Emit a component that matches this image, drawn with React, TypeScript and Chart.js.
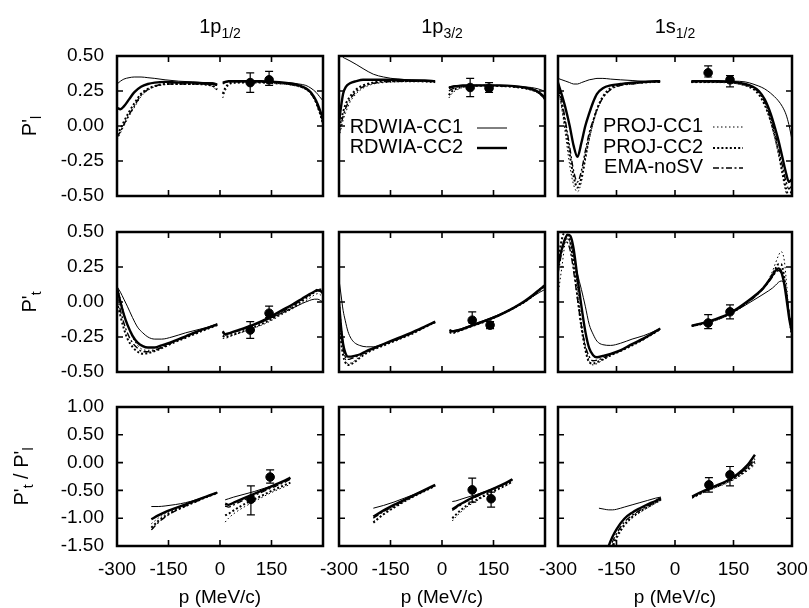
import React, { useEffect, useRef } from 'react';
import { Chart, registerables } from 'chart.js';
Chart.register(...registerables);

const W = 809;
const H = 608;
const FONT = "'Liberation Sans', Arial, Helvetica, sans-serif";

// panel rectangles (pixel layout)
const COLS = [[117, 323], [339, 545], [558, 792]];
const ROWS = [[56, 196], [232, 372], [407, 546]];

// ticks
const X_TICKS = [-300, -150, 0, 150, 300];
const Y_TICKS_P = [-0.5, -0.25, 0, 0.25, 0.5];
const Y_TICKS_R = [-1.5, -1.0, -0.5, 0, 0.5, 1.0];

const COL_TITLES: [string, string][] = [['1p', '1/2'], ['1p', '3/2'], ['1s', '1/2']];
const ROW_TITLES: [string, string][][] = [[["P'", 'l']], [["P'", 't']], [["P'", 't'], [" / P'", 'l']]];
const X_TITLE = 'p (MeV/c)';
const SERIES_LABELS = ['RDWIA-CC1', 'RDWIA-CC2', 'PROJ-CC1', 'PROJ-CC2', 'EMA-noSV'];

// ---------- Panel A: P'l, 1p1/2 ----------
const A_XN = [-300, -290, -280, -265, -250, -230, -210, -190, -160, -120, -80, -40, -20, -8];
const A_CC1_N = [0.30, 0.32, 0.335, 0.345, 0.35, 0.35, 0.345, 0.34, 0.33, 0.32, 0.315, 0.31, 0.31, 0.30];
const A_CC2_N = [0.13, 0.12, 0.14, 0.19, 0.24, 0.28, 0.30, 0.31, 0.315, 0.31, 0.31, 0.305, 0.30, 0.295];
const A_P1_N = [-0.10, -0.05, 0.0, 0.07, 0.13, 0.21, 0.255, 0.28, 0.295, 0.30, 0.30, 0.295, 0.28, 0.25];
const A_P2_N = [-0.06, -0.02, 0.03, 0.10, 0.16, 0.23, 0.265, 0.285, 0.30, 0.30, 0.30, 0.295, 0.285, 0.26];
const A_EMA_N = [-0.08, -0.04, 0.01, 0.08, 0.14, 0.22, 0.26, 0.285, 0.30, 0.30, 0.30, 0.30, 0.295, 0.29];
const A_XP = [8, 15, 25, 40, 80, 120, 160, 200, 230, 250, 265, 280, 290, 300];
const A_CC1_P = [0.31, 0.315, 0.32, 0.32, 0.32, 0.32, 0.315, 0.31, 0.30, 0.29, 0.27, 0.24, 0.21, 0.18];
const A_CC2_P = [0.31, 0.315, 0.32, 0.32, 0.32, 0.32, 0.315, 0.305, 0.29, 0.27, 0.24, 0.18, 0.12, 0.05];
const A_P1_P = [0.20, 0.25, 0.29, 0.305, 0.31, 0.31, 0.305, 0.295, 0.28, 0.26, 0.23, 0.16, 0.09, 0.0];
const A_P2_P = [0.23, 0.27, 0.30, 0.31, 0.31, 0.31, 0.305, 0.30, 0.285, 0.265, 0.235, 0.17, 0.10, 0.02];
const A_EMA_P = [0.30, 0.31, 0.315, 0.315, 0.315, 0.315, 0.31, 0.30, 0.285, 0.265, 0.23, 0.17, 0.10, 0.03];
const A_PX = [88, 143];
const A_PY = [0.31, 0.33];
const A_LO = [0.24, 0.29];
const A_HI = [0.38, 0.39];

// ---------- Panel B: P'l, 1p3/2 ----------
const B_XN = [-300, -295, -288, -280, -268, -250, -230, -200, -170, -130, -90, -50, -20];
const B_CC1_N = [0.53, 0.51, 0.49, 0.48, 0.465, 0.44, 0.41, 0.37, 0.35, 0.335, 0.33, 0.325, 0.32];
const B_CC2_N = [0.02, 0.12, 0.23, 0.28, 0.305, 0.32, 0.33, 0.33, 0.33, 0.33, 0.325, 0.325, 0.32];
const B_P1_N = [-0.08, -0.03, 0.04, 0.10, 0.17, 0.23, 0.27, 0.30, 0.31, 0.315, 0.32, 0.315, 0.31];
const B_P2_N = [-0.04, 0.03, 0.10, 0.16, 0.21, 0.26, 0.29, 0.31, 0.32, 0.32, 0.32, 0.32, 0.315];
const B_EMA_N = [-0.06, 0.0, 0.07, 0.13, 0.19, 0.245, 0.28, 0.305, 0.315, 0.32, 0.32, 0.32, 0.315];
const B_XP = [20, 30, 45, 60, 90, 130, 170, 210, 240, 260, 280, 292, 300];
const B_CC1_P = [0.28, 0.285, 0.29, 0.29, 0.29, 0.29, 0.29, 0.285, 0.28, 0.275, 0.265, 0.255, 0.245];
const B_CC2_P = [0.27, 0.28, 0.285, 0.29, 0.29, 0.29, 0.29, 0.285, 0.275, 0.265, 0.245, 0.22, 0.20];
const B_P1_P = [0.20, 0.235, 0.26, 0.275, 0.285, 0.285, 0.285, 0.28, 0.27, 0.255, 0.235, 0.21, 0.18];
const B_P2_P = [0.22, 0.25, 0.27, 0.28, 0.285, 0.29, 0.285, 0.28, 0.27, 0.26, 0.24, 0.215, 0.19];
const B_EMA_P = [0.25, 0.265, 0.28, 0.285, 0.29, 0.29, 0.285, 0.28, 0.27, 0.26, 0.24, 0.215, 0.19];
const B_PX = [82, 137];
const B_PY = [0.275, 0.27];
const B_LO = [0.21, 0.24];
const B_HI = [0.34, 0.31];

// ---------- Panel C: P'l, 1s1/2 ----------
const C_XN = [-300, -290, -280, -270, -260, -250, -240, -230, -220, -210, -200, -185, -165, -140, -110, -80, -50, -38];
const C_CC1_N = [0.34, 0.33, 0.32, 0.31, 0.30, 0.30, 0.31, 0.32, 0.33, 0.335, 0.34, 0.34, 0.335, 0.33, 0.325, 0.32, 0.32, 0.32];
const C_CC2_N = [0.31, 0.22, 0.12, 0.0, -0.14, -0.22, -0.12, 0.0, 0.09, 0.17, 0.23, 0.27, 0.29, 0.30, 0.31, 0.315, 0.32, 0.32];
const C_P1_N = [0.28, 0.12, -0.08, -0.28, -0.42, -0.47, -0.40, -0.25, -0.10, 0.02, 0.11, 0.20, 0.26, 0.29, 0.30, 0.31, 0.315, 0.315];
const C_P2_N = [0.30, 0.15, -0.02, -0.20, -0.36, -0.44, -0.37, -0.22, -0.08, 0.03, 0.12, 0.21, 0.27, 0.295, 0.305, 0.31, 0.315, 0.315];
const C_EMA_N = [0.30, 0.18, 0.02, -0.15, -0.32, -0.40, -0.32, -0.18, -0.05, 0.04, 0.12, 0.20, 0.26, 0.29, 0.30, 0.31, 0.315, 0.315];
const C_XP = [42, 70, 110, 150, 180, 200, 215, 230, 245, 255, 265, 275, 285, 292, 300];
const C_CC1_P = [0.32, 0.32, 0.32, 0.32, 0.315, 0.30, 0.285, 0.265, 0.235, 0.21, 0.18, 0.14, 0.08, 0.01, -0.10];
const C_CC2_P = [0.32, 0.32, 0.32, 0.315, 0.30, 0.28, 0.25, 0.19, 0.09, 0.0, -0.10, -0.22, -0.34, -0.40, -0.38];
const C_P1_P = [0.31, 0.31, 0.31, 0.305, 0.29, 0.27, 0.23, 0.15, 0.03, -0.08, -0.20, -0.35, -0.48, -0.52, -0.50];
const C_P2_P = [0.315, 0.315, 0.315, 0.31, 0.29, 0.265, 0.225, 0.15, 0.04, -0.06, -0.18, -0.32, -0.45, -0.50, -0.46];
const C_EMA_P = [0.315, 0.315, 0.315, 0.31, 0.295, 0.275, 0.24, 0.17, 0.06, -0.04, -0.15, -0.28, -0.40, -0.45, -0.42];
const C_PX = [85, 141];
const C_PY = [0.38, 0.33];
const C_LO = [0.35, 0.28];
const C_HI = [0.43, 0.36];

// ---------- Panel D: P't, 1p1/2 ----------
const D_XN = [-300, -290, -280, -270, -255, -240, -225, -210, -190, -170, -140, -100, -60, -30, -8];
const D_CC1_N = [0.11, 0.07, 0.02, -0.03, -0.11, -0.18, -0.22, -0.25, -0.265, -0.265, -0.25, -0.22, -0.195, -0.175, -0.155];
const D_CC2_N = [0.10, 0.0, -0.09, -0.16, -0.24, -0.29, -0.315, -0.325, -0.325, -0.31, -0.285, -0.245, -0.205, -0.18, -0.16];
const D_P1_N = [0.12, 0.02, -0.08, -0.16, -0.25, -0.31, -0.34, -0.345, -0.34, -0.32, -0.29, -0.25, -0.21, -0.18, -0.16];
const D_P2_N = [0.0, -0.10, -0.19, -0.26, -0.32, -0.355, -0.37, -0.365, -0.35, -0.33, -0.295, -0.255, -0.215, -0.185, -0.165];
const D_EMA_N = [0.05, -0.06, -0.15, -0.22, -0.29, -0.33, -0.355, -0.355, -0.345, -0.325, -0.29, -0.25, -0.21, -0.18, -0.16];
const D_XP = [8, 15, 30, 60, 100, 140, 180, 210, 240, 260, 275, 285, 293, 300];
const D_CC1_P = [-0.21, -0.225, -0.22, -0.20, -0.165, -0.125, -0.08, -0.045, -0.01, 0.01, 0.02, 0.02, 0.01, 0.0];
const D_CC2_P = [-0.21, -0.23, -0.22, -0.195, -0.16, -0.115, -0.06, -0.02, 0.025, 0.055, 0.075, 0.085, 0.08, 0.06];
const D_P1_P = [-0.26, -0.26, -0.245, -0.22, -0.185, -0.145, -0.09, -0.05, -0.005, 0.025, 0.05, 0.06, 0.05, 0.03];
const D_P2_P = [-0.24, -0.25, -0.24, -0.215, -0.18, -0.135, -0.08, -0.04, 0.01, 0.045, 0.07, 0.09, 0.09, 0.08];
const D_EMA_P = [-0.22, -0.235, -0.225, -0.20, -0.165, -0.12, -0.07, -0.03, 0.02, 0.05, 0.07, 0.08, 0.075, 0.06];
const D_PX = [88, 143];
const D_PY = [-0.20, -0.08];
const D_LO = [-0.26, -0.11];
const D_HI = [-0.14, -0.03];

// ---------- Panel E: P't, 1p3/2 ----------
const E_XN = [-300, -294, -288, -282, -274, -265, -255, -240, -220, -200, -170, -130, -90, -50, -20];
const E_CC1_N = [0.16, 0.05, -0.06, -0.13, -0.21, -0.26, -0.29, -0.31, -0.32, -0.32, -0.30, -0.27, -0.225, -0.175, -0.14];
const E_CC2_N = [0.0, -0.18, -0.30, -0.36, -0.39, -0.39, -0.385, -0.375, -0.35, -0.33, -0.30, -0.26, -0.22, -0.175, -0.14];
const E_P1_N = [0.05, -0.15, -0.30, -0.40, -0.44, -0.435, -0.42, -0.39, -0.36, -0.335, -0.305, -0.265, -0.225, -0.18, -0.145];
const E_P2_N = [-0.10, -0.28, -0.38, -0.43, -0.45, -0.445, -0.43, -0.40, -0.365, -0.34, -0.31, -0.27, -0.23, -0.18, -0.145];
const E_EMA_N = [-0.05, -0.22, -0.33, -0.39, -0.41, -0.405, -0.395, -0.38, -0.355, -0.335, -0.305, -0.265, -0.225, -0.18, -0.145];
const E_XP = [22, 30, 50, 90, 130, 170, 210, 240, 265, 285, 300];
const E_CC1_P = [-0.20, -0.205, -0.195, -0.16, -0.125, -0.085, -0.04, 0.0, 0.04, 0.07, 0.09];
const E_CC2_P = [-0.20, -0.21, -0.20, -0.165, -0.13, -0.09, -0.04, 0.005, 0.05, 0.09, 0.12];
const E_P1_P = [-0.22, -0.225, -0.21, -0.17, -0.135, -0.095, -0.045, -0.005, 0.04, 0.08, 0.11];
const E_P2_P = [-0.215, -0.22, -0.205, -0.17, -0.135, -0.09, -0.04, 0.0, 0.045, 0.09, 0.12];
const E_EMA_P = [-0.205, -0.21, -0.20, -0.165, -0.13, -0.09, -0.04, 0.0, 0.045, 0.085, 0.11];
const E_PX = [88, 140];
const E_PY = [-0.13, -0.165];
const E_LO = [-0.15, -0.19];
const E_HI = [-0.07, -0.14];

// ---------- Panel F: P't, 1s1/2 ----------
const F_XN = [-300, -290, -282, -275, -268, -260, -250, -240, -230, -220, -210, -200, -185, -165, -140, -110, -80, -50, -38];
const F_CC1_N = [0.28, 0.38, 0.44, 0.45, 0.42, 0.33, 0.20, 0.09, -0.03, -0.16, -0.23, -0.28, -0.305, -0.31, -0.295, -0.265, -0.24, -0.205, -0.19];
const F_CC2_N = [0.26, 0.38, 0.45, 0.48, 0.47, 0.38, 0.17, -0.03, -0.21, -0.33, -0.38, -0.395, -0.385, -0.37, -0.345, -0.30, -0.26, -0.21, -0.19];
const F_P1_N = [0.05, 0.25, 0.42, 0.50, 0.47, 0.34, 0.10, -0.14, -0.32, -0.42, -0.45, -0.44, -0.415, -0.385, -0.35, -0.31, -0.265, -0.215, -0.195];
const F_P2_N = [0.30, 0.45, 0.50, 0.49, 0.42, 0.27, 0.04, -0.18, -0.34, -0.43, -0.44, -0.43, -0.41, -0.38, -0.35, -0.31, -0.265, -0.215, -0.195];
const F_EMA_N = [0.20, 0.36, 0.43, 0.42, 0.36, 0.22, 0.02, -0.17, -0.31, -0.39, -0.42, -0.415, -0.40, -0.375, -0.345, -0.305, -0.26, -0.215, -0.195];
const F_XP = [43, 85, 140, 188, 223, 240, 250, 258, 265, 272, 280, 287, 293, 300];
const F_CC1_P = [-0.17, -0.14, -0.085, -0.01, 0.05, 0.08, 0.10, 0.12, 0.14, 0.15, 0.13, 0.05, -0.08, -0.24];
const F_CC2_P = [-0.17, -0.14, -0.08, 0.01, 0.09, 0.15, 0.19, 0.225, 0.24, 0.22, 0.13, 0.0, -0.12, -0.22];
const F_P1_P = [-0.175, -0.15, -0.09, 0.0, 0.09, 0.16, 0.22, 0.28, 0.33, 0.36, 0.30, 0.10, -0.12, -0.28];
const F_P2_P = [-0.17, -0.145, -0.085, 0.005, 0.09, 0.15, 0.20, 0.24, 0.27, 0.27, 0.18, 0.03, -0.10, -0.21];
const F_EMA_P = [-0.17, -0.145, -0.085, 0.0, 0.085, 0.14, 0.18, 0.21, 0.225, 0.21, 0.14, 0.02, -0.10, -0.20];
const F_PX = [85, 141];
const F_PY = [-0.15, -0.07];
const F_LO = [-0.19, -0.12];
const F_HI = [-0.09, -0.02];

// ---------- Panel G: P't/P'l, 1p1/2 ----------
const G_XN = [-200, -180, -160, -130, -100, -70, -40, -8];
const G_CC1_N = [-0.79, -0.79, -0.78, -0.755, -0.72, -0.67, -0.61, -0.54];
const G_CC2_N = [-1.02, -0.95, -0.89, -0.82, -0.75, -0.68, -0.61, -0.54];
const G_P1_N = [-1.10, -1.0, -0.92, -0.84, -0.77, -0.69, -0.62, -0.545];
const G_P2_N = [-1.17, -1.05, -0.96, -0.86, -0.78, -0.70, -0.62, -0.545];
const G_EMA_N = [-1.21, -1.08, -0.98, -0.87, -0.78, -0.70, -0.62, -0.54];
const G_XP = [15, 25, 40, 70, 100, 130, 160, 190, 205];
const G_CC1_P = [-0.67, -0.65, -0.62, -0.57, -0.52, -0.46, -0.40, -0.33, -0.29];
const G_CC2_P = [-0.74, -0.76, -0.72, -0.64, -0.56, -0.48, -0.40, -0.32, -0.27];
const G_P1_P = [-1.07, -1.0, -0.92, -0.80, -0.70, -0.60, -0.51, -0.43, -0.39];
const G_P2_P = [-0.95, -0.92, -0.86, -0.75, -0.66, -0.57, -0.48, -0.40, -0.36];
const G_EMA_P = [-0.78, -0.80, -0.76, -0.67, -0.59, -0.51, -0.43, -0.35, -0.30];
const G_PX = [90, 146];
const G_PY = [-0.66, -0.26];
const G_LO = [-0.94, -0.37];
const G_HI = [-0.42, -0.13];

// ---------- Panel H: P't/P'l, 1p3/2 ----------
const H_XN = [-200, -170, -140, -110, -80, -50, -20];
const H_CC1_N = [-0.82, -0.77, -0.71, -0.64, -0.57, -0.49, -0.40];
const H_CC2_N = [-0.97, -0.86, -0.76, -0.67, -0.58, -0.49, -0.40];
const H_P1_N = [-1.06, -0.92, -0.80, -0.70, -0.60, -0.51, -0.42];
const H_P2_N = [-1.08, -0.93, -0.81, -0.70, -0.60, -0.51, -0.42];
const H_EMA_N = [-1.0, -0.88, -0.78, -0.68, -0.59, -0.50, -0.41];
const H_XP = [30, 40, 50, 70, 100, 130, 160, 185, 205];
const H_CC1_P = [-0.70, -0.69, -0.67, -0.63, -0.575, -0.51, -0.44, -0.37, -0.31];
const H_CC2_P = [-0.84, -0.80, -0.76, -0.69, -0.60, -0.52, -0.44, -0.37, -0.30];
const H_P1_P = [-1.05, -0.98, -0.92, -0.81, -0.69, -0.59, -0.50, -0.42, -0.35];
const H_P2_P = [-1.0, -0.94, -0.88, -0.78, -0.67, -0.57, -0.48, -0.41, -0.34];
const H_EMA_P = [-0.86, -0.82, -0.78, -0.70, -0.61, -0.53, -0.45, -0.38, -0.31];
const H_PX = [88, 143];
const H_PY = [-0.49, -0.65];
const H_LO = [-0.71, -0.80];
const H_HI = [-0.28, -0.53];

// ---------- Panel I: P't/P'l, 1s1/2 ----------
const I_XN = [-195, -180, -170, -160, -150, -130, -110, -90, -70, -50, -36];
const I_CC1_N = [-0.82, -0.84, -0.85, -0.85, -0.84, -0.80, -0.76, -0.72, -0.68, -0.64, -0.62];
const I_CC2_N = [-2.0, -1.75, -1.50, -1.33, -1.20, -1.01, -0.90, -0.82, -0.75, -0.69, -0.64];
const I_P1_N = [-2.3, -2.0, -1.75, -1.55, -1.38, -1.15, -1.0, -0.90, -0.81, -0.73, -0.67];
const I_P2_N = [-2.2, -1.9, -1.70, -1.50, -1.34, -1.12, -0.98, -0.88, -0.80, -0.72, -0.67];
const I_EMA_N = [-2.1, -1.85, -1.62, -1.42, -1.28, -1.07, -0.95, -0.86, -0.78, -0.71, -0.66];
const I_XP = [44, 70, 100, 130, 160, 185, 205];
const I_CC1_P = [-0.61, -0.52, -0.43, -0.34, -0.22, -0.09, 0.03];
const I_CC2_P = [-0.61, -0.52, -0.43, -0.34, -0.21, -0.05, 0.14];
const I_P1_P = [-0.64, -0.55, -0.46, -0.38, -0.27, -0.15, -0.04];
const I_P2_P = [-0.63, -0.54, -0.45, -0.36, -0.25, -0.12, 0.0];
const I_EMA_P = [-0.62, -0.53, -0.44, -0.35, -0.23, -0.09, 0.07];
const I_PX = [87, 141];
const I_PY = [-0.40, -0.22];
const I_LO = [-0.53, -0.42];
const I_HI = [-0.27, -0.07];

type Panel = {
  row: number; col: number;
  xn: number[]; xp: number[];
  ys: [number[], number[]][];
  px: number[]; py: number[]; lo: number[]; hi: number[];
};

const PANELS: Panel[] = [
  { row: 0, col: 0, xn: A_XN, xp: A_XP, ys: [[A_CC1_N, A_CC1_P], [A_CC2_N, A_CC2_P], [A_P1_N, A_P1_P], [A_P2_N, A_P2_P], [A_EMA_N, A_EMA_P]], px: A_PX, py: A_PY, lo: A_LO, hi: A_HI },
  { row: 0, col: 1, xn: B_XN, xp: B_XP, ys: [[B_CC1_N, B_CC1_P], [B_CC2_N, B_CC2_P], [B_P1_N, B_P1_P], [B_P2_N, B_P2_P], [B_EMA_N, B_EMA_P]], px: B_PX, py: B_PY, lo: B_LO, hi: B_HI },
  { row: 0, col: 2, xn: C_XN, xp: C_XP, ys: [[C_CC1_N, C_CC1_P], [C_CC2_N, C_CC2_P], [C_P1_N, C_P1_P], [C_P2_N, C_P2_P], [C_EMA_N, C_EMA_P]], px: C_PX, py: C_PY, lo: C_LO, hi: C_HI },
  { row: 1, col: 0, xn: D_XN, xp: D_XP, ys: [[D_CC1_N, D_CC1_P], [D_CC2_N, D_CC2_P], [D_P1_N, D_P1_P], [D_P2_N, D_P2_P], [D_EMA_N, D_EMA_P]], px: D_PX, py: D_PY, lo: D_LO, hi: D_HI },
  { row: 1, col: 1, xn: E_XN, xp: E_XP, ys: [[E_CC1_N, E_CC1_P], [E_CC2_N, E_CC2_P], [E_P1_N, E_P1_P], [E_P2_N, E_P2_P], [E_EMA_N, E_EMA_P]], px: E_PX, py: E_PY, lo: E_LO, hi: E_HI },
  { row: 1, col: 2, xn: F_XN, xp: F_XP, ys: [[F_CC1_N, F_CC1_P], [F_CC2_N, F_CC2_P], [F_P1_N, F_P1_P], [F_P2_N, F_P2_P], [F_EMA_N, F_EMA_P]], px: F_PX, py: F_PY, lo: F_LO, hi: F_HI },
  { row: 2, col: 0, xn: G_XN, xp: G_XP, ys: [[G_CC1_N, G_CC1_P], [G_CC2_N, G_CC2_P], [G_P1_N, G_P1_P], [G_P2_N, G_P2_P], [G_EMA_N, G_EMA_P]], px: G_PX, py: G_PY, lo: G_LO, hi: G_HI },
  { row: 2, col: 1, xn: H_XN, xp: H_XP, ys: [[H_CC1_N, H_CC1_P], [H_CC2_N, H_CC2_P], [H_P1_N, H_P1_P], [H_P2_N, H_P2_P], [H_EMA_N, H_EMA_P]], px: H_PX, py: H_PY, lo: H_LO, hi: H_HI },
  { row: 2, col: 2, xn: I_XN, xp: I_XP, ys: [[I_CC1_N, I_CC1_P], [I_CC2_N, I_CC2_P], [I_P1_N, I_P1_P], [I_P2_N, I_P2_P], [I_EMA_N, I_EMA_P]], px: I_PX, py: I_PY, lo: I_LO, hi: I_HI },
];

const STYLES = [
  { borderWidth: 1, borderDash: [] as number[] },
  { borderWidth: 2.4, borderDash: [] as number[] },
  { borderWidth: 1, borderDash: [1.5, 2.5] },
  { borderWidth: 2, borderDash: [2, 2.2] },
  { borderWidth: 1.4, borderDash: [6, 2.5, 2, 2.5] },
];

// legends: [row-col] -> series indices, text right edge / rows (offset from plot area)
const LEGENDS: Record<string, { items: number[]; rx: number; ry: number[]; gap: number }> = {
  '0-1': { items: [0, 1], rx: 124, ry: [71, 91], gap: 14 },
  '0-2': { items: [2, 3, 4], rx: 145, ry: [70, 91, 111], gap: 10 },
};

const ROW_TITLE_X = [36, 36, 28];

function drawSubText(ctx: CanvasRenderingContext2D, parts: [string, string][], cx: number, by: number, mainSize: number, subSize: number) {
  const mf = `${mainSize}px ${FONT}`;
  const sf = `${subSize}px ${FONT}`;
  let total = 0;
  for (const [m, s] of parts) {
    ctx.font = mf; total += ctx.measureText(m).width;
    ctx.font = sf; total += ctx.measureText(s).width;
  }
  let x = cx - total / 2;
  ctx.textAlign = 'left';
  ctx.textBaseline = 'alphabetic';
  for (const [m, s] of parts) {
    ctx.font = mf; ctx.fillText(m, x, by); x += ctx.measureText(m).width;
    ctx.font = sf; ctx.fillText(s, x, by + 5); x += ctx.measureText(s).width;
  }
}

function makeOverlay(p: Panel) {
  const yTicks = p.row === 2 ? Y_TICKS_R : Y_TICKS_P;
  return {
    id: 'overlay',
    afterDraw(chart: any) {
      const { ctx, chartArea, scales } = chart;
      const { left, right, top, bottom } = chartArea;
      const xs = scales.x;
      const ys = scales.y;
      ctx.save();
      ctx.strokeStyle = '#000';
      ctx.fillStyle = '#000';
      ctx.setLineDash([]);
      // error bars
      ctx.lineWidth = 1.2;
      p.px.forEach((xv, k) => {
        const X = xs.getPixelForValue(xv);
        const y1 = ys.getPixelForValue(p.lo[k]);
        const y2 = ys.getPixelForValue(p.hi[k]);
        ctx.beginPath();
        ctx.moveTo(X, y1); ctx.lineTo(X, y2);
        ctx.moveTo(X - 4, y1); ctx.lineTo(X + 4, y1);
        ctx.moveTo(X - 4, y2); ctx.lineTo(X + 4, y2);
        ctx.stroke();
      });
      // inward ticks on all four sides
      ctx.lineWidth = 1.6;
      ctx.beginPath();
      for (const v of X_TICKS.slice(1, -1)) {
        const X = xs.getPixelForValue(v);
        ctx.moveTo(X, bottom); ctx.lineTo(X, bottom - 6);
        ctx.moveTo(X, top); ctx.lineTo(X, top + 6);
      }
      for (const v of yTicks.slice(1, -1)) {
        const Y = ys.getPixelForValue(v);
        ctx.moveTo(left, Y); ctx.lineTo(left + 6, Y);
        ctx.moveTo(right, Y); ctx.lineTo(right - 6, Y);
      }
      ctx.stroke();
      // frame
      ctx.lineWidth = 2.5;
      ctx.strokeRect(left, top, right - left, bottom - top);
      // legend
      const lg = LEGENDS[`${p.row}-${p.col}`];
      if (lg) {
        ctx.font = `20px ${FONT}`;
        ctx.textAlign = 'right';
        ctx.textBaseline = 'middle';
        lg.items.forEach((si, k) => {
          const tx = left + lg.rx;
          const ty = top + lg.ry[k];
          ctx.fillText(SERIES_LABELS[si], tx, ty);
          const st = STYLES[si];
          ctx.lineWidth = st.borderWidth;
          ctx.setLineDash(st.borderDash);
          ctx.beginPath();
          ctx.moveTo(tx + lg.gap, ty + 1);
          ctx.lineTo(tx + lg.gap + 30, ty + 1);
          ctx.stroke();
          ctx.setLineDash([]);
        });
      }
      // column title
      if (p.row === 0) {
        drawSubText(ctx, [COL_TITLES[p.col]], (left + right) / 2, 33, 20, 14);
      }
      // row title
      if (p.col === 0) {
        ctx.save();
        ctx.translate(ROW_TITLE_X[p.row], (top + bottom) / 2);
        ctx.rotate(-Math.PI / 2);
        drawSubText(ctx, ROW_TITLES[p.row], 0, 0, 20, 14);
        ctx.restore();
      }
      // x title
      if (p.row === 2) {
        ctx.font = `19px ${FONT}`;
        ctx.textAlign = 'center';
        ctx.textBaseline = 'alphabetic';
        ctx.fillText(X_TITLE, (left + right) / 2, 603);
      }
      ctx.restore();
    },
  };
}

function buildConfig(p: Panel): any {
  const [x0, x1] = COLS[p.col];
  const [y0, y1] = ROWS[p.row];
  const yTicks = p.row === 2 ? Y_TICKS_R : Y_TICKS_P;
  const datasets: any[] = p.ys.map(([n, q], i) => ({
    label: SERIES_LABELS[i],
    data: [
      ...p.xn.map((x, k) => ({ x, y: n[k] })),
      { x: (p.xn[p.xn.length - 1] + p.xp[0]) / 2, y: null },
      ...p.xp.map((x, k) => ({ x, y: q[k] })),
    ],
    borderColor: '#000',
    backgroundColor: '#000',
    pointRadius: 0,
    fill: false,
    spanGaps: false,
    cubicInterpolationMode: 'monotone',
    borderWidth: STYLES[i].borderWidth,
    borderDash: STYLES[i].borderDash,
  }));
  datasets.push({
    label: 'data',
    data: p.px.map((x, k) => ({ x, y: p.py[k] })),
    showLine: false,
    pointRadius: 4.3,
    pointBackgroundColor: '#000',
    pointBorderColor: '#000',
    borderColor: '#000',
    backgroundColor: '#000',
  });
  const axisH = H - y1;
  return {
    type: 'line',
    data: { datasets },
    options: {
      responsive: false,
      animation: false,
      devicePixelRatio: 1,
      events: [],
      layout: { padding: { left: 0, right: W - x1, top: y0, bottom: 0 } },
      plugins: { legend: { display: false }, tooltip: { enabled: false }, title: { display: false } },
      scales: {
        x: {
          type: 'linear',
          min: -300,
          max: 300,
          grid: { display: false, drawTicks: false },
          border: { display: false },
          afterBuildTicks: (s: any) => { s.ticks = X_TICKS.map((v) => ({ value: v })); },
          afterFit: (s: any) => { s.height = axisH; s.paddingLeft = 0; s.paddingRight = 0; },
          ticks: {
            display: p.row === 2,
            autoSkip: false,
            maxRotation: 0,
            minRotation: 0,
            padding: 12,
            color: '#000',
            font: { family: FONT, size: 19 },
            callback: (v: any) => (p.col < 2 && Number(v) === 300 ? '' : String(v)),
          },
        },
        y: {
          type: 'linear',
          min: yTicks[0],
          max: yTicks[yTicks.length - 1],
          grid: { display: false, drawTicks: false },
          border: { display: false },
          afterBuildTicks: (s: any) => { s.ticks = yTicks.map((v) => ({ value: v })); },
          afterFit: (s: any) => { s.width = x0; s.paddingTop = 0; s.paddingBottom = 0; },
          ticks: {
            display: p.col === 0,
            padding: 13,
            color: '#000',
            font: { family: FONT, size: 19 },
            callback: (v: any) => Number(v).toFixed(2),
          },
        },
      },
    },
    plugins: [makeOverlay(p)],
  };
}

export default function App() {
  const refs = useRef<(HTMLCanvasElement | null)[]>([]);
  useEffect(() => {
    const charts = PANELS.map((p, i) => new Chart(refs.current[i] as HTMLCanvasElement, buildConfig(p)));
    return () => charts.forEach((c) => c.destroy());
  }, []);
  return (
    <div style={{ position: 'absolute', left: 0, top: 0, width: W, height: H, background: '#fff' }}>
      {PANELS.map((p, i) => (
        <canvas
          key={i}
          ref={(el) => { refs.current[i] = el; }}
          width={W}
          height={H}
          style={{ position: 'absolute', left: 0, top: 0, width: W, height: H }}
        />
      ))}
    </div>
  );
}
